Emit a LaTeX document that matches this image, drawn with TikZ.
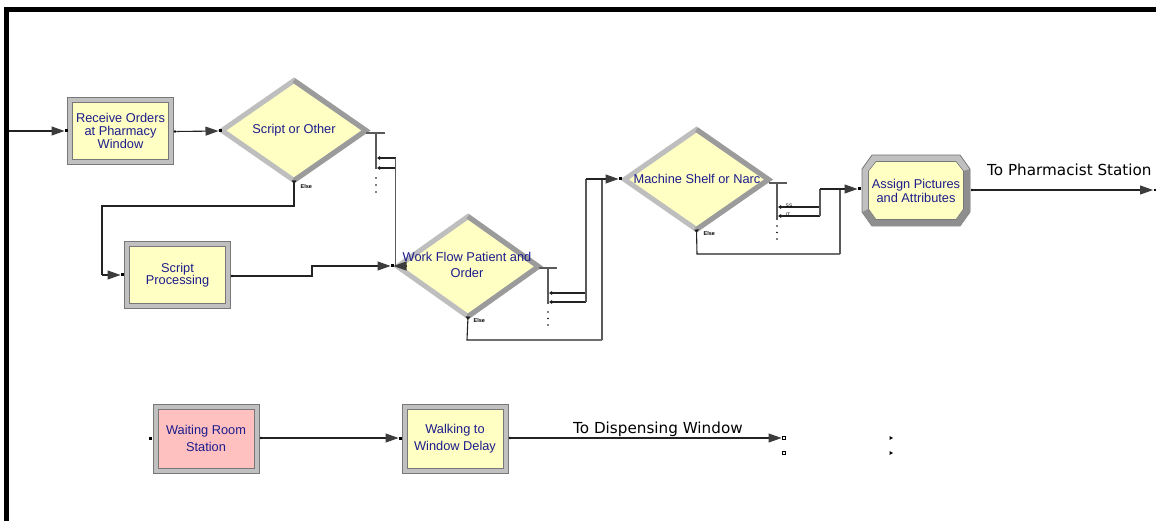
\documentclass[tikz,border=0pt]{standalone}
\usepackage{fontspec}
\setmainfont{Liberation Sans}
\newfontfamily\lblfont{DejaVu Sans}
\usetikzlibrary{arrows.meta,shapes.geometric,calc}
\definecolor{modyel}{RGB}{255,255,196}
\definecolor{modpink}{RGB}{255,192,192}
\definecolor{bevlight}{RGB}{192,192,192}
\definecolor{bevdark}{RGB}{142,142,142}
\definecolor{bevedge}{RGB}{120,120,120}
\definecolor{modtext}{RGB}{28,28,140}
\definecolor{conn}{RGB}{35,35,35}
\definecolor{branchc}{RGB}{90,90,90}
\definecolor{arrgray}{RGB}{60,60,60}
\definecolor{dialight}{RGB}{190,190,190}
\definecolor{diadark}{RGB}{155,155,155}
\begin{document}
\begin{tikzpicture}[x=1pt,y=-1pt,
  modtxt/.style={font=\fontsize{12.8}{#1}\selectfont, text=modtext, align=center},
  modtxt/.default=13,
  bevelpic/.style={path picture={
      \fill[bevdark] (path picture bounding box.south west) -- (path picture bounding box.south east)
        -- (path picture bounding box.north east) -- ([xshift=-5pt,yshift=-5pt]path picture bounding box.north east)
        -- ([xshift=-5pt,yshift=5pt]path picture bounding box.south east) -- ([xshift=5pt,yshift=5pt]path picture bounding box.south west) -- cycle;}},
  module/.style={rectangle, draw=bevedge, line width=0.8pt, inner sep=0pt, outer sep=0pt,
    minimum width=106pt, minimum height=67pt, fill=bevlight, bevelpic,
    path picture={
      \fill[#1, draw=bevedge, line width=0.6pt] ([xshift=5pt,yshift=5pt]path picture bounding box.south west)
        rectangle ([xshift=-5pt,yshift=-5pt]path picture bounding box.north east);}},
  module/.default=modyel,
  dia/.style={diamond, draw=dialight, line width=5pt, line join=miter, fill=modyel, inner sep=0pt, outer sep=0pt,
    minimum width=144pt, minimum height=100pt},
  diashade/.style={draw=diadark, line width=5pt, line join=miter},
  entsq/.style={rectangle, fill=black, minimum size=3pt, inner sep=0pt, outer sep=0pt},
  exdot/.style={circle, fill=black, minimum size=2.6pt, inner sep=0pt, outer sep=0pt},
  hollowsq/.style={rectangle, draw=black, line width=0.6pt, fill=white, minimum size=3.4pt, inner sep=0pt},
  flow/.style={draw=conn, line width=1.1pt, -{Triangle[length=13pt,width=9pt,fill=arrgray,color=arrgray]}},
  stub/.style={draw=branchc, line width=1.4pt},
  exitmark/.style={draw=conn, line width=1.1pt, {Triangle[length=3.2pt,width=4pt,fill=black]}-},
  elsemark/.style={draw=conn, line width=1.1pt, {Triangle[length=3.5pt,width=4.5pt,fill=black,reversed]}-},
  tiny/.style={font=\bfseries\fontsize{5.5}{6}\selectfont, inner sep=0.5pt, anchor=west},
  dotm/.style={circle, fill=black, minimum size=1.6pt, inner sep=0pt},
  lbl/.style={font=\lblfont\fontsize{15.2}{17}\selectfont, inner sep=0pt, text=black}
]
\useasboundingbox (0,0) rectangle (1156,521);
\fill[white] (0,0) rectangle (1156,521);
% frame
\fill[black] (4,7) rectangle (1156,12);
\fill[black] (4,7) rectangle (9,521);

% ---------- modules ----------
\node[module, modtxt=13] (ro) at (120.5,131) {Receive Orders\\at Pharmacy\\Window};
\node[module, modtxt=12.5] (sp) at (177.5,275) {Script\\Processing};
\node[module=modpink, modtxt=16.5, minimum height=69pt] (wr) at (206,438.5) {Waiting Room\\Station};
\node[module, modtxt=16.5, minimum height=69pt] (wk) at (455,438.5) {Walking to\\Window Delay};

% decisions
\node[dia] (so) at (294,130.5) {};
\draw[diashade] (so.north) -- (so.east) -- (so.south);
\node[modtxt] (sot) at (294,130) {Script or Other};

\node[dia, minimum width=141pt] (wf) at (468,266.5) {};
\draw[diashade] (wf.north) -- (wf.east) -- (wf.south);
\node[modtxt=16] (wft) at (467,265) {Work Flow Patient and\\Order};

\node[dia] (ms) at (696.5,179.5) {};
\draw[diashade] (ms.north) -- (ms.east) -- (ms.south);
\node[modtxt] (mst) at (697,179) {Machine Shelf or Narc};

% assign (octagon, drawn explicitly)
\path (862,155) coordinate (oTL) (970,226) coordinate (oBR);
\fill[bevlight, draw=bevedge, line width=0.8pt]
  (872,155) -- (960,155) -- (970,169) -- (970,212) -- (960,226) -- (872,226) -- (862,212) -- (862,169) -- cycle;
\fill[bevdark]
  (970,169) -- (970,212) -- (960,226) -- (872,226) -- (862,212) -- (868.5,209) -- (876,219.5) -- (956,219.5) -- (963.5,209) -- (963.5,171) -- cycle;
\fill[modyel, draw=bevedge, line width=0.6pt]
  (876,161.5) -- (956,161.5) -- (963.5,171) -- (963.5,209) -- (956,219.5) -- (876,219.5) -- (868.5,209) -- (868.5,171) -- cycle;
\node[modtxt=14, inner sep=0pt, minimum width=108pt, minimum height=71pt] (asg) at (916,190.5) {Assign Pictures\\and Attributes};

% ---------- entry / exit points ----------
\coordinate (start) at (9,131);
\node[entsq] (roin) at (66,131) {};
\node[exdot] (roout) at (175,131.5) {};
\node[entsq] (soin) at (220,131) {};
\node[entsq] (spin) at (122,275) {};
\node[exdot] (spout) at (232,276) {};
\node[entsq] (wfin) at (392,266) {};
\node[entsq] (msin) at (620,179) {};
\node[entsq] (asgent) at (859,189) {};
\node[exdot] (asgout) at (972,190) {};
\coordinate (pharm) at (1153,190);
\node[entsq, minimum size=2.4pt] (pharmdot) at (1155,190) {};
\node[entsq] (wrin) at (150,438) {};
\node[exdot] (wrout) at (261,438) {};
\node[entsq] (wkin) at (400,438) {};
\node[exdot] (wkout) at (510,438) {};
\node[hollowsq] (disp1) at (783.5,438) {};
\node[hollowsq] (disp2) at (783.5,453) {};

% ---------- main connectors ----------
\draw[flow] (start) -- (roin);
\draw[flow] (roout) -- (soin);

% Script or Other exits
\coordinate (soe) at (366,133);
\coordinate (sostub) at (385,133);
\draw[stub] (soe) -- (sostub);
\draw[stub] (376,133) -- (376,169);
\foreach \yy in {178,185,192} \node[dotm] at (376,\yy) {};
\coordinate (sob1) at (377,158);
\coordinate (sob2) at (377,168);
\draw[exitmark] (sob2) -- (395.5,168);
\draw[exitmark] (sob1) -- (395.5,158);
\draw[stub] (395.5,158) -- (395.5,266);
\draw[flow] (395.5,266) -- (406,266) -- (wfin);
% else of Script or Other
\draw[elsemark] (so.south) -- (294,206) -- (102,206) -- (102,275);
\draw[flow] (102,275) -- (spin);
\node[tiny] (soelse) at (300,186.5) {Else};

% Script Processing to Work Flow
\draw[flow] (spout) -- (312,276) -- (312,266) -- (wfin);

% Work Flow exits
\coordinate (wfe) at (538.5,268);
\draw[stub] (wfe) -- (557,268);
\draw[stub] (548,268) -- (548,304);
\foreach \yy in {312,318.5,325} \node[dotm] at (548,\yy) {};
\coordinate (wfb1) at (549,293);
\coordinate (wfb2) at (549,302);
\draw[exitmark] (wfb1) -- (586,293);
\draw[exitmark] (wfb2) -- (586,302);
\draw[stub] (586,302) -- (586,179);
\draw[elsemark] (wf.south) -- (467,340) -- (602,340);
\draw[stub] (602,340) -- (602,179);
\draw[flow] (586,179) -- (msin);
\node[tiny] (wfelse) at (473,321) {Else};

% Machine Shelf exits
\coordinate (mse) at (768.5,183);
\draw[stub] (mse) -- (787,183);
\draw[stub] (777,183) -- (777,220);
\foreach \yy in {226,232.5,239} \node[dotm] at (777,\yy) {};
\coordinate (msb1) at (778,207);
\coordinate (msb2) at (778,216);
\draw[exitmark] (msb1) -- (820,207);
\draw[exitmark] (msb2) -- (820,216);
\node[tiny, font=\fontsize{5}{6}\selectfont] (msl1) at (785,206) {SS};
\node[tiny, font=\fontsize{5}{6}\selectfont] (msl2) at (785,215) {IT};
\draw[stub] (820,216) -- (820,189);
\draw[elsemark] (ms.south) -- (697,254) -- (840,254);
\draw[stub] (840,254) -- (840,189);
\draw[flow] (820,189) -- (asgent);
\node[tiny] (mselse) at (703,234) {Else};

% Assign to pharmacist
\draw[flow] (asgout) -- (pharm);
\node[lbl, anchor=base west] (lblph) at (987,176) {To Pharmacist Station};

% bottom row
\draw[flow] (wrout) -- (wkin);
\draw[flow] (wkout) -- (disp1);
\node[lbl, anchor=base west] (lbldw) at (573,433) {To Dispensing Window};
\fill[black] (889.5,436) -- (893,438) -- (889.5,440) -- cycle;
\fill[black] (889.5,451) -- (893,453) -- (889.5,455) -- cycle;
\end{tikzpicture}
\end{document}
